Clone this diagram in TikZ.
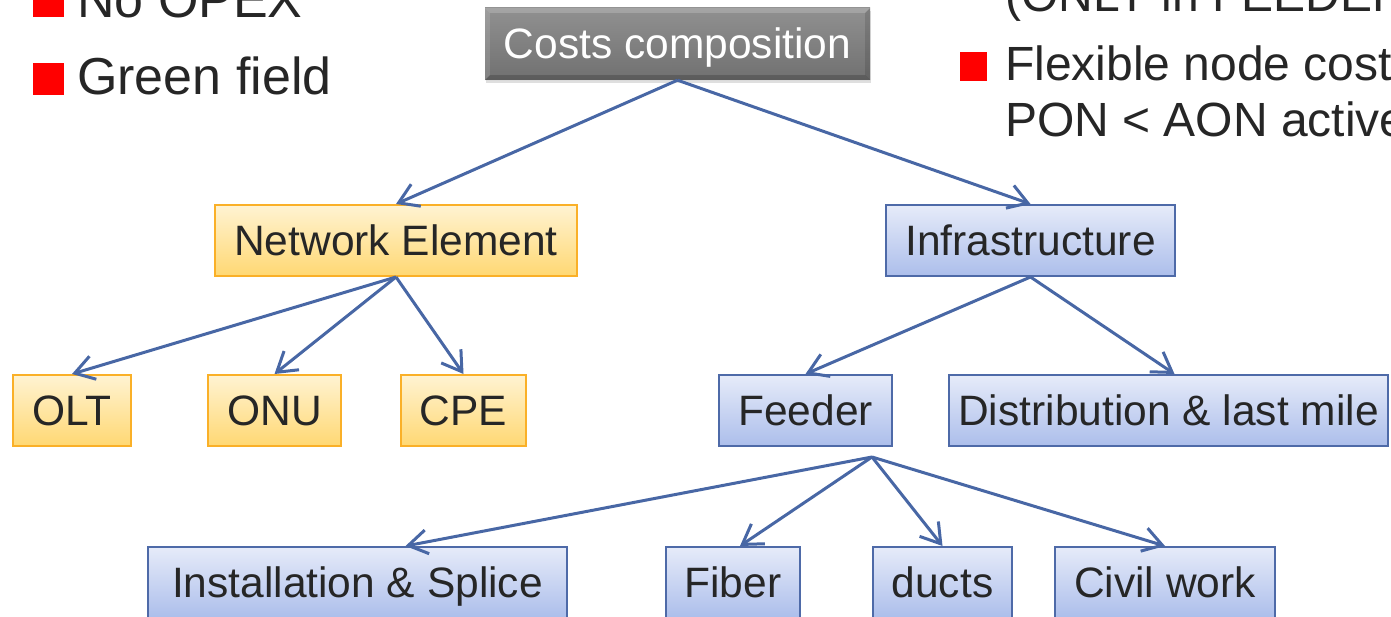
\documentclass[tikz,border=0pt]{standalone}
\usepackage{fontspec}
\setmainfont{Liberation Sans}
\usetikzlibrary{arrows.meta,calc,shadows}
\definecolor{txt}{RGB}{38,38,38}
\definecolor{oborder}{RGB}{250,176,40}
\definecolor{otop}{RGB}{255,243,210}
\definecolor{obot}{RGB}{255,216,115}
\definecolor{bborder}{RGB}{78,106,168}
\definecolor{btop}{RGB}{230,235,249}
\definecolor{bbot}{RGB}{172,190,235}
\definecolor{arrowc}{RGB}{72,103,165}
\definecolor{ccgray}{RGB}{125,125,125}
\definecolor{bulletred}{RGB}{255,0,0}
\tikzset{
  box/.style={draw, line width=2pt, inner sep=0pt, minimum height=71pt,
    text=txt, font=\fontsize{42.5}{50}\selectfont, text height=30pt, text depth=0pt},
  orangebox/.style={box, draw=oborder, top color=otop, bottom color=obot},
  bluebox/.style={box, draw=bborder, top color=btop, bottom color=bbot},
  ccbox/.style={inner sep=0pt, minimum height=72pt, minimum width=385pt,
    top color=ccgray!85!white, bottom color=ccgray!90!black,
    text=white, font=\fontsize{42.5}{50}\selectfont, text height=30pt, text depth=0pt,
    drop shadow={shadow xshift=1pt, shadow yshift=-3pt, opacity=0.25}},
  conn/.style={draw=arrowc, line width=3pt,
    -{Straight Barb[length=19pt,width=24pt,line width=3pt]}},
  redsq/.style={fill=bulletred, inner sep=0pt},
  bigtext/.style={anchor=base west, inner sep=0pt, text=txt, font=\fontsize{52}{60}\selectfont},
  midtext/.style={anchor=base west, inner sep=0pt, text=txt, font=\fontsize{48}{56}\selectfont},
}
\begin{document}
\begin{tikzpicture}[x=1pt,y=-1pt]
\useasboundingbox (0,0) rectangle (1391,617);
\clip (0,0) rectangle (1391,617);

% bullets left
\node[redsq, minimum width=31pt, minimum height=32pt] (sq1) at (48.5,1) {};
\node[bigtext] (nopex) at (77,18) {No OPEX};
\node[redsq, minimum width=31pt, minimum height=32pt] (sq2) at (48.5,79) {};
\node[bigtext] (green) at (77,95) {Green field};

% bullets right
\node[midtext] (only) at (1005,12) {(ONLY in FEEDER)};
\node[redsq, minimum width=27pt, minimum height=29pt] (sq3) at (973.5,66.5) {};
\node[midtext] (flex) at (1005,81) {Flexible node costs};
\node[midtext] (pon) at (1005,137) {PON < AON active};

% root
\node[ccbox] (cc) at (677.5,44) {Costs composition};
\fill[white, opacity=0.18] (cc.north west) -- (cc.north east) -- ([xshift=-5pt,yshift=-5pt]cc.north east) -- ([xshift=5pt,yshift=-5pt]cc.north west) -- cycle;
\fill[white, opacity=0.12] (cc.north west) -- ([xshift=5pt,yshift=-5pt]cc.north west) -- ([xshift=5pt,yshift=5pt]cc.south west) -- (cc.south west) -- cycle;
\fill[black, opacity=0.18] (cc.south west) -- (cc.south east) -- ([xshift=-5pt,yshift=5pt]cc.south east) -- ([xshift=5pt,yshift=5pt]cc.south west) -- cycle;
\fill[black, opacity=0.12] (cc.north east) -- ([xshift=-5pt,yshift=-5pt]cc.north east) -- ([xshift=-5pt,yshift=5pt]cc.south east) -- (cc.south east) -- cycle;

% level 1
\node[orangebox, minimum width=362pt] (ne) at (396,240.5) {Network Element};
\node[bluebox, minimum width=289pt] (inf) at (1030.5,240.5) {Infrastructure};

% level 2
\node[orangebox, minimum width=118pt] (olt) at (72,410.5) {OLT};
\node[orangebox, minimum width=133pt] (onu) at (274.5,410.5) {ONU};
\node[orangebox, minimum width=125pt] (cpe) at (463.5,410.5) {CPE};
\node[bluebox, minimum width=173pt] (feeder) at (805.5,410.5) {Feeder};
\node[bluebox, minimum width=439pt] (dist) at (1168.5,410.5) {Distribution \& last mile};

% level 3
\node[bluebox, minimum width=419pt] (inst) at (357.5,582.5) {Installation \& Splice};
\node[bluebox, minimum width=134pt] (fiber) at (733,582.5) {Fiber};
\node[bluebox, minimum width=139pt] (ducts) at (942.5,582.5) {ducts};
\node[bluebox, minimum width=220pt] (civil) at (1165,582.5) {Civil work};

\coordinate (fo) at (872,457);

% connectors
\draw[conn] (cc.south) -- (ne.north);
\draw[conn] (cc.south) -- (inf.north);
\draw[conn] (ne.south) -- (olt.north);
\draw[conn] (ne.south) -- (onu.north);
\draw[conn] (ne.south) -- (cpe.north);
\draw[conn] (inf.south) -- (feeder.north);
\draw[conn] (inf.south) -- ([xshift=6pt]dist.north);
\draw[conn] (fo) -- ([xshift=48pt]inst.north);
\draw[conn] (fo) -- ([xshift=7pt]fiber.north);
\draw[conn] (fo) -- (ducts.north);
\draw[conn] (fo) -- (civil.north);
\end{tikzpicture}
\end{document}
